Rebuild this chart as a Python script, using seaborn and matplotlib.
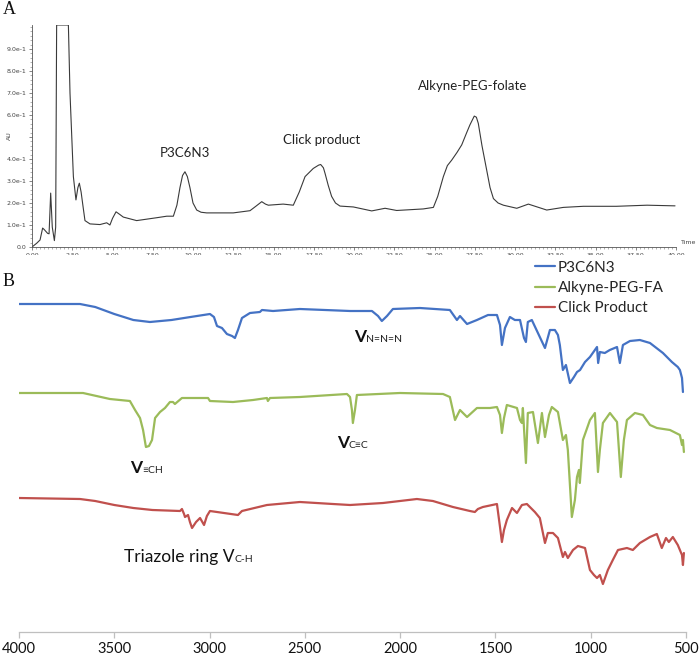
import numpy as np
import pandas as pd
import seaborn as sns
import matplotlib.pyplot as plt
from matplotlib.ticker import MultipleLocator, FixedLocator, FixedFormatter

# ------------------------------
# Panel A: HPLC chromatogram (time in min, signal in AU)
# ------------------------------
rt = [0.00, 0.29, 0.50, 0.66, 0.75, 0.97, 1.06, 1.16, 1.26, 1.39, 1.47, 1.53,
      2.26, 2.36, 2.57, 2.73, 2.85, 2.94, 3.05, 3.15, 3.29, 3.60, 4.22, 4.64,
      4.84, 5.00, 5.22, 5.45, 5.67, 6.50, 7.74, 8.37, 8.78, 9.00, 9.19, 9.35,
      9.50, 9.65, 9.81, 10.00, 10.23, 10.50, 10.85, 12.50, 13.54, 13.90, 14.27,
      14.50, 14.68, 15.60, 16.23, 16.60, 16.96, 17.47, 17.80, 17.93, 18.10,
      18.20, 18.40, 18.61, 18.85, 19.13, 19.96, 21.10, 21.93, 22.65, 24.30,
      24.93, 25.20, 25.55, 25.80, 26.07, 26.40, 26.69, 27.00, 27.20, 27.47,
      27.60, 27.72, 27.95, 28.24, 28.45, 28.66, 28.95, 29.28, 30.11, 30.83,
      31.97, 33.00, 34.25, 36.30, 38.20, 39.94]
signal = [0.000, 0.017, 0.032, 0.086, 0.080, 0.062, 0.060, 0.245, 0.090, 0.029,
          0.090, 1.009, 1.009, 0.700, 0.320, 0.214, 0.270, 0.290, 0.250, 0.195,
          0.120, 0.105, 0.102, 0.110, 0.100, 0.130, 0.160, 0.148, 0.136, 0.120,
          0.133, 0.140, 0.140, 0.190, 0.270, 0.325, 0.342, 0.320, 0.270, 0.200,
          0.168, 0.158, 0.155, 0.155, 0.165, 0.185, 0.206, 0.195, 0.190, 0.195,
          0.190, 0.250, 0.320, 0.357, 0.372, 0.375, 0.360, 0.335, 0.280, 0.230,
          0.200, 0.186, 0.182, 0.164, 0.176, 0.166, 0.173, 0.180, 0.230, 0.320,
          0.370, 0.395, 0.430, 0.464, 0.520, 0.555, 0.595, 0.590, 0.562, 0.460,
          0.350, 0.270, 0.220, 0.200, 0.190, 0.176, 0.195, 0.168, 0.180, 0.185,
          0.185, 0.190, 0.187]
peak_names = ["P3C6N3", "Click product", "Alkyne-PEG-folate"]
peak_rt = [9.5, 18.0, 27.4]
peak_label_y = [0.427, 0.486, 0.732]

# ------------------------------
# Panel B: FTIR spectra (wavenumber in cm-1, stacked transmittance a.u.)
# ------------------------------
wn_p3 = [4000, 3837, 3680, 3600, 3500, 3400, 3313, 3200, 3100, 2998, 2977, 2961,
         2935, 2909, 2882, 2867, 2851, 2830, 2788, 2736, 2725, 2667, 2526, 2263,
         2148, 2116, 2096, 2069, 2038, 1896, 1739, 1702, 1686, 1649, 1597, 1539,
         1492, 1476, 1466, 1450, 1424, 1398, 1371, 1350, 1340, 1330, 1309, 1277,
         1240, 1214, 1188, 1172, 1162, 1146, 1130, 1109, 1088, 1072, 1056, 1030,
         1004, 967, 961, 952, 926, 900, 862, 847, 831, 794, 742, 689, 621, 574,
         543, 532, 521, 516]
t_p3 = [328, 328, 328, 325, 318, 312, 310, 312, 315, 318, 315, 306,
        304, 298, 296, 294, 302, 314, 319, 320, 322, 321, 323, 321,
        321, 316, 311, 316, 323, 324, 322, 312, 316, 308, 312, 317,
        317, 307, 287, 304, 315, 312, 312, 294, 290, 310, 312, 299,
        284, 302, 302, 297, 287, 262, 267, 249, 255, 260, 262, 270,
        275, 285, 269, 280, 279, 282, 285, 269, 287, 291, 292, 289, 279, 270,
        265, 262, 254, 240]

wn_fa = [4000, 3664, 3523, 3418, 3391, 3365, 3349, 3334, 3318, 3302, 3286, 3260,
         3234, 3208, 3192, 3182, 3145, 3008, 2998, 2877, 2772, 2699, 2694, 2683,
         2526, 2279, 2263, 2253, 2248, 2237, 2227, 2001, 1775, 1739, 1712, 1686,
         1649, 1597, 1529, 1492, 1476, 1466, 1455, 1440, 1387, 1371, 1361, 1356,
         1340, 1330, 1303, 1277, 1256, 1240, 1219, 1204, 1172, 1146, 1130, 1120,
         1099, 1083, 1072, 1062, 1057, 1041, 1004, 978, 962, 952, 936, 899, 862,
         842, 826, 810, 768, 726, 689, 653, 584, 532, 521, 516, 511]
t_fa = [239, 239, 233, 231, 222, 214, 202, 185, 186, 192, 214, 220,
        224, 230, 230, 228, 234, 234, 231, 230, 232, 234, 231, 234,
        235, 238, 235, 222, 209, 222, 237, 239, 238, 235, 212, 222,
        215, 224, 224, 225, 217, 199, 214, 227, 224, 212, 209, 224,
        169, 219, 220, 189, 219, 195, 217, 225, 220, 192, 197, 182,
        115, 132, 155, 162, 149, 192, 212, 219, 160, 182, 209, 219, 210,
        155, 192, 212, 219, 217, 207, 204, 202, 197, 187, 192, 180]

wn_click = [4000, 3680, 3600, 3500, 3400, 3300, 3155, 3145, 3134, 3129, 3113, 3103,
            3092, 3071, 3050, 3029, 3014, 2998, 2851, 2830, 2699, 2526, 2353, 2263,
            2090, 1912, 1828, 1723, 1634, 1608, 1592, 1566, 1492, 1476, 1466, 1455,
            1440, 1413, 1387, 1361, 1335, 1293, 1267, 1240, 1225, 1198, 1172, 1146,
            1135, 1120, 1093, 1067, 1030, 1004, 983, 967, 952, 936, 910, 884, 857,
            810, 779, 742, 689, 653, 627, 605, 590, 569, 543, 521, 516, 511]
t_click = [134, 133, 131, 127, 124, 122, 121, 123, 118, 115, 117, 110,
           104, 110, 114, 107, 116, 121, 117, 121, 127, 130, 128, 127,
           129, 133, 131, 125, 121, 120, 123, 125, 128, 105, 90, 102,
           112, 124, 119, 127, 128, 120, 114, 89, 99, 99, 94, 75,
           80, 74, 82, 86, 84, 62, 57, 54, 57, 48, 62, 72, 82,
           84, 82, 89, 95, 98, 84, 94, 90, 95, 87, 77, 67, 79]

samples = ["P3C6N3", "Alkyne-PEG-FA", "Click Product"]
colors = ["#4472C4", "#9BBB59", "#C0504D"]

ir = pd.concat([
    pd.DataFrame({"wavenumber": wn_p3, "T": t_p3, "sample": samples[0]}),
    pd.DataFrame({"wavenumber": wn_fa, "T": t_fa, "sample": samples[1]}),
    pd.DataFrame({"wavenumber": wn_click, "T": t_click, "sample": samples[2]}),
])
hplc = pd.DataFrame({"time": rt, "AU": signal})

# ------------------------------
# Figure
# ------------------------------
sns.set_theme(style="white")
plt.rcParams["font.family"] = ["Lato", "DejaVu Sans"]

W, H = 700, 656
fig = plt.figure(figsize=(W / 100, H / 100), dpi=100)

# ---- Panel A ----
axA = fig.add_axes([32 / W, (H - 247) / H, 644 / W, 222 / H])
sns.lineplot(data=hplc, x="time", y="AU", ax=axA, color="#3a3a3a",
             linewidth=0.8, estimator=None, sort=False)
axA.set_xlim(0, 40)
axA.set_ylim(0, 1.009)
sns.despine(ax=axA)
for s in ["left", "bottom"]:
    axA.spines[s].set_color("#555555")
    axA.spines[s].set_linewidth(0.6)
axA.xaxis.set_major_locator(MultipleLocator(2.5))
axA.xaxis.set_minor_locator(MultipleLocator(0.25))
axA.xaxis.set_major_formatter(lambda v, p: f"{v:.2f}")
yt = [i / 10 for i in range(10)]
# the 0.5 label is replaced by the rotated "AU" unit in the original
ylabels = ["0.0"] + [f"{i}.0e-1" if i != 5 else "" for i in range(1, 10)]
axA.yaxis.set_major_locator(FixedLocator(yt))
axA.yaxis.set_major_formatter(FixedFormatter(ylabels))
axA.yaxis.set_minor_locator(MultipleLocator(0.02))
axA.tick_params(which="major", length=2.5, width=0.5, color="#555555",
                labelsize=4.5, labelcolor="#444444", pad=1.5, bottom=True, left=True)
axA.tick_params(which="minor", length=1.2, width=0.4, color="#777777", bottom=True, left=True)
for lab in axA.get_xticklabels() + axA.get_yticklabels():
    lab.set_family("DejaVu Sans")
axA.set_xlabel("")
axA.set_ylabel("")
fig.text(9 / W, 1 - 136 / H, "AU", rotation=90, fontsize=4.5, color="#444444",
         ha="center", va="center", family="DejaVu Sans")
fig.text(689 / W, 1 - 243 / H, "Time", fontsize=4.5, color="#444444",
         ha="center", va="center", family="DejaVu Sans")
for name, x, y in zip(peak_names, peak_rt, peak_label_y):
    axA.text(x, y, name, ha="center", va="center", fontsize=9.5, color="#222222")

# ---- Panel B ----
axB = fig.add_axes([19 / W, (H - 632) / H, 667 / W, 377 / H])
sns.lineplot(data=ir, x="wavenumber", y="T", hue="sample", hue_order=samples,
             palette=dict(zip(samples, colors)), ax=axB, linewidth=1.6,
             estimator=None, sort=True)
axB.set_xlim(4000, 500)
axB.set_ylim(0, 377)
sns.despine(ax=axB, left=True)
axB.spines["bottom"].set_color("#bfbfbf")
axB.spines["bottom"].set_linewidth(0.9)
axB.set_yticks([])
axB.xaxis.set_major_locator(MultipleLocator(500))
axB.tick_params(axis="x", length=4, width=0.9, color="#bfbfbf", labelsize=10.5,
                labelcolor="#111111", pad=3, bottom=True)
axB.set_xlabel("")
axB.set_ylabel("")

handles, labels = axB.get_legend_handles_labels()
axB.legend(handles, labels, loc="upper left", bbox_to_anchor=((535 - 19) / 667, 0.985),
           frameon=False, fontsize=11, handlelength=1.3, handletextpad=0.2,
           labelspacing=0.42, borderpad=0, borderaxespad=0)

# band assignments: V + subscript, anchored at the V/subscript boundary
bands = [("V", "N=N=N", 2179, 290, "bold"),
         ("V", "C≡C", 2269, 184, "bold"),
         ("V", "≡CH", 3352, 159, "bold"),
         ("Triazole ring V", "C-H", 2867, 70, "normal")]
for main, sub, x, y, wt in bands:
    axB.text(x, y, main, ha="right", va="baseline", fontsize=12.5,
             fontweight=wt, color="#111111")
    axB.text(x, y, sub, ha="left", va="baseline", fontsize=7.5, color="#222222")

fig.text(9 / W, 1 - 10 / H, "A", fontsize=13, family="Liberation Serif",
         ha="center", va="center", color="#111111")
fig.text(9 / W, 1 - 281 / H, "B", fontsize=13, family="Liberation Serif",
         ha="center", va="center", color="#111111")

fig.savefig("out.png", dpi=100)
